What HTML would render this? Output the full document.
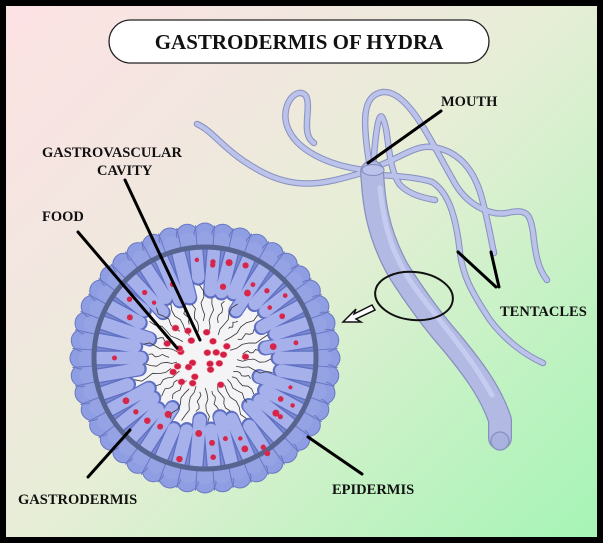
<!DOCTYPE html>
<html><head><meta charset="utf-8"><style>
html,body{margin:0;padding:0}
body{width:603px;height:543px;overflow:hidden;background:#000}
#f{position:absolute;left:6px;top:6px;width:591px;height:531px;background:linear-gradient(135deg,#fde2e4 0%,#f3e6e0 25%,#e6eed6 50%,#c4f2c4 75%,#a6f4b6 100%)}
svg{position:absolute;left:0;top:0}
text{font-family:"Liberation Serif",serif;font-weight:bold;fill:#111}
</style></head><body>
<div id="f"></div>
<svg width="603" height="543" viewBox="0 0 603 543" id="s">
<rect x="109" y="20" width="380" height="43" rx="21.5" fill="#fff" stroke="#222" stroke-width="1.3"/>
<text x="299" y="49" font-size="21" text-anchor="middle">GASTRODERMIS OF HYDRA</text>
<g id="hydra" fill="none" stroke-linecap="round" stroke-linejoin="round">
</g>
<g id="cs"></g>
<g stroke="#000" stroke-width="3" fill="none" stroke-linecap="round">
<line x1="441" y1="111" x2="368" y2="163"/>
<line x1="125" y1="180" x2="200" y2="340"/>
<line x1="78" y1="232" x2="177" y2="348"/>
<line x1="458" y1="252" x2="496" y2="287"/>
<line x1="491" y1="252" x2="499" y2="287"/>
<line x1="88" y1="477" x2="130" y2="430"/>
<line x1="308" y1="437" x2="362" y2="474"/>
</g>
<ellipse cx="414" cy="296" rx="39" ry="24" fill="none" stroke="#111" stroke-width="2" transform="rotate(6 414 296)"/>
<path d="M372,305 L354,314 L356,309 L343,322 L361,322 L356,319 L375,310 Z" fill="#fff" stroke="#111" stroke-width="1.5"/>
<g font-size="14.5">
<text x="441" y="106">MOUTH</text>
<text x="42" y="157">GASTROVASCULAR</text>
<text x="97" y="175">CAVITY</text>
<text x="42" y="221">FOOD</text>
<text x="500" y="316">TENTACLES</text>
<text x="18" y="504">GASTRODERMIS</text>
<text x="332" y="494">EPIDERMIS</text>
</g>
</svg>
<script>
var NS="http://www.w3.org/2000/svg";
function el(p,t,a){var e=document.createElementNS(NS,t);for(var k in a)e.setAttribute(k,a[k]);p.appendChild(e);return e;}
var h=document.getElementById("hydra");
var tent=[
"M365,172 C330,182 300,192 262,172 S215,132 197,124",
"M365,170 C330,166 292,150 286,122 C282,102 298,86 306,96 C312,108 300,134 314,143",
"M370,168 C362,120 362,95 383,92 C408,90 430,140 453,180 C466,205 490,216 507,213 C528,208 530,215 533,232 C535,250 537,268 547,280",
"M373,168 C375,140 378,112 382,117 C390,130 386,165 400,185 C410,195 424,198 435,200",
"M378,166 C400,158 415,145 432,147 C455,150 472,165 481,195 C488,220 491,240 494,253",
"M378,175 C400,176 420,178 432,182 C448,192 456,215 460,253 C463,275 470,290 490,320 C505,340 525,355 543,363"
];
tent.forEach(function(d){el(h,"path",{d:d,stroke:"#8890c0","stroke-width":6.5});});
tent.forEach(function(d){el(h,"path",{d:d,stroke:"#bcc3ea","stroke-width":4.5});});
var body="M372,172 C374,200 376,230 398,270 C412,292 430,318 452,343 C470,365 490,390 500,420 L500,438";
el(h,"path",{d:body,stroke:"#8890c0","stroke-width":24});
el(h,"path",{d:body,stroke:"#b2bae4","stroke-width":21.5});
el(h,"path",{d:"M380,188 C384,230 395,262 418,292 C440,322 470,355 492,395",stroke:"#c6ccf0","stroke-width":5});
el(h,"circle",{cx:500,cy:441,r:9,fill:"#aab3e0",stroke:"#8890c0","stroke-width":1.3});
el(h,"ellipse",{cx:373,cy:170,rx:11,ry:5.5,fill:"#bcc3ea",stroke:"#8890c0","stroke-width":1.2});
var g=document.getElementById("cs"),cx=205,cy=358;
var defs=el(g,"defs",{});var cp=el(defs,"clipPath",{id:"cp"});el(cp,"circle",{cx:cx,cy:cy,r:110});
function P(r,a){return [cx+r*Math.cos(a),cy+r*Math.sin(a)];}
el(g,"circle",{cx:cx,cy:cy,r:127,fill:"#8a98de"});
var N=44;
for(var i=0;i<N;i++){var a=i/N*2*Math.PI,p=P(124,a);
 el(g,"circle",{cx:p[0],cy:p[1],r:11,fill:"#8f9de2",stroke:"#6a78c4","stroke-width":1});}
for(var i=0;i<N;i++){var a=i/N*2*Math.PI,p=P(118,a);
 el(g,"circle",{cx:p[0],cy:p[1],r:8.5,fill:"#95a3e4"});}
for(var i=0;i<N;i++){var a=(i+0.5)/N*2*Math.PI,p1=P(113,a),p2=P(133,a);
 el(g,"line",{x1:p1[0],y1:p1[1],x2:p2[0],y2:p2[1],stroke:"#6a78c4","stroke-width":1});}
el(g,"circle",{cx:cx,cy:cy,r:110,fill:"#7a88d0"});
el(g,"circle",{cx:cx,cy:cy,r:80,fill:"#f4f4f6"});
var gc=el(g,"g",{"clip-path":"url(#cp)"});
var M=38,inner=[];
for(var i=0;i<M;i++){var a=i/M*2*Math.PI,ri=68+8*Math.sin(i*2.3)+5*Math.cos(i*1.1);inner.push(ri);
 var p1=P(ri,a),p2=P(125,a);
 el(gc,"line",{x1:p1[0],y1:p1[1],x2:p2[0],y2:p2[1],stroke:"#5f6fc2","stroke-width":15,"stroke-linecap":"round"});}
for(var i=0;i<M;i++){var a=i/M*2*Math.PI,p1=P(inner[i]+1,a),p2=P(125,a);
 el(gc,"line",{x1:p1[0],y1:p1[1],x2:p2[0],y2:p2[1],stroke:"#a6b1ec","stroke-width":12.5,"stroke-linecap":"round"});}
el(g,"circle",{cx:cx,cy:cy,r:111,fill:"none",stroke:"#56648f","stroke-width":5});
for(var i=0;i<34;i++){var a=i/34*2*Math.PI+0.05,r0=32+6*Math.sin(i*3.1),r1=inner[Math.round(i/34*M)%M]-7;
 var d="";for(var k=0;k<=6;k++){var r=r0+(r1-r0)*k/6,aa=a+0.035*Math.sin(k*1.8+i),p=P(r,aa);d+=(k?"L":"M")+p[0].toFixed(1)+","+p[1].toFixed(1);}
 el(g,"path",{d:d,fill:"none",stroke:"#333","stroke-width":0.8});}
function R(n){var x=Math.sin(n*12.9898)*43758.5453;return x-Math.floor(x);}
for(var i=0;i<24;i++){var a=R(i+1)*6.283,r=Math.sqrt(R(i+50))*45,p=P(r,a);
 el(g,"ellipse",{cx:p[0],cy:p[1],rx:3.5,ry:3.1,fill:"#d21f45",stroke:"#f08090","stroke-width":0.6});}
for(var i=0;i<M;i++){var a=i/M*2*Math.PI,n=Math.floor(R(i+7)*3);
 for(var j=0;j<n;j++){var r=inner[i]+6+R(i*5+j)*28,p=P(r,a);
 el(g,"circle",{cx:p[0],cy:p[1],r:2+R(i+j*9)*1.5,fill:"#d8264a"});}}
</script>
</body></html>
